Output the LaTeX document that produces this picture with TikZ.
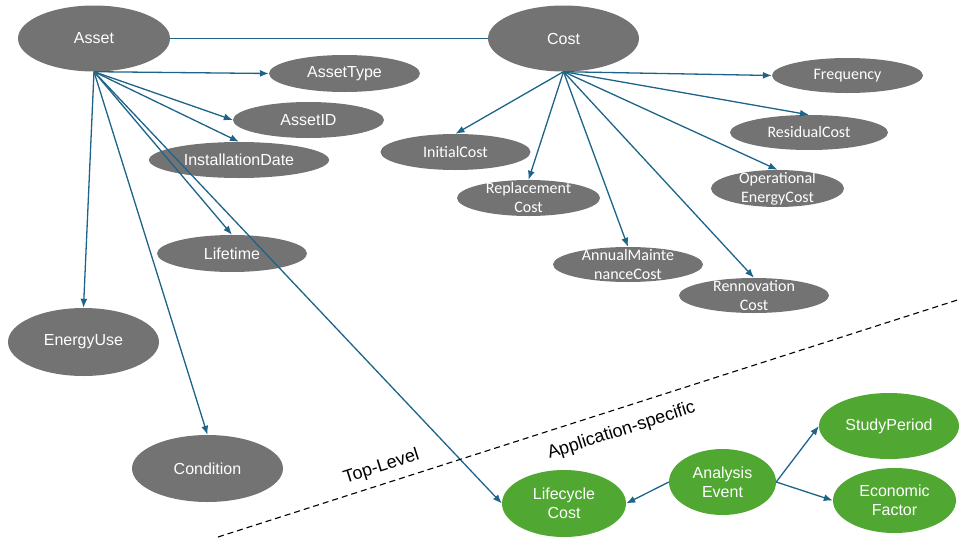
\documentclass[tikz,border=0pt]{standalone}
\usepackage{fontspec}
\setmainfont{Liberation Sans}
\newfontfamily\calfont{Carlito}
\usetikzlibrary{shapes.geometric,arrows.meta}
\definecolor{ellgray}{HTML}{737373}
\definecolor{ellgreen}{HTML}{50A732}
\definecolor{arrowblue}{HTML}{1D6488}
\tikzset{
  ell/.style={ellipse, draw=none, inner sep=0pt},
  grayell/.style={ell, fill=ellgray},
  greenell/.style={ell, fill=ellgreen},
  lbl/.style={text=white, align=center, inner sep=0pt, font=\fontsize{16}{19}\selectfont},
  clbl/.style={lbl, font=\calfont\fontsize{16}{19}\selectfont},
  conn/.style={draw=arrowblue, line width=1.3pt, -{Latex[length=9pt,width=7pt]}},
  plain/.style={draw=arrowblue, line width=1.3pt},
  divider/.style={draw=black, line width=1.1pt, dash pattern=on 6pt off 4pt},
  region/.style={font=\fontsize{18}{21}\selectfont, inner sep=0pt, rotate=17.7}
}
\newcommand{\ellnode}[7]{%
  \node[#1, minimum width=#4pt, minimum height=#5pt] (#2) at (#3) {};
  \node[#6] (#2-t) at (#2.center) {#7};
}
\begin{document}
\begin{tikzpicture}[x=1pt, y=-1pt]
\useasboundingbox (0,0) rectangle (959,541);
% main nodes
\ellnode{grayell}{asset}{94,38.5}{152}{66}{lbl}{Asset}
\ellnode{grayell}{cost}{563.5,38.5}{151}{66}{lbl}{Cost}
% asset attributes
\ellnode{grayell}{atype}{344.5,73.5}{151}{37}{lbl}{AssetType}
\ellnode{grayell}{aid}{308.5,120}{151}{36}{lbl}{AssetID}
\ellnode{grayell}{inst}{239,160}{180}{36}{lbl}{InstallationDate}
\ellnode{grayell}{life}{232,253.5}{150}{37}{lbl}{Lifetime}
\ellnode{grayell}{energy}{83.5,342}{151}{68}{lbl}{EnergyUse}
\ellnode{grayell}{cond}{207.5,468.5}{151}{67}{lbl}{Condition}
% cost attributes
\ellnode{grayell}{init}{455.5,152}{150}{36}{clbl}{InitialCost}
\ellnode{grayell}{repl}{528.5,198}{143}{36}{clbl}{Replacement\\Cost}
\ellnode{grayell}{annual}{628,264.5}{150}{35}{clbl}{AnnualMainte\\nanceCost}
\ellnode{grayell}{renov}{754,295.5}{150}{35}{clbl}{Rennovation\\Cost}
\ellnode{grayell}{oper}{777.5,188.5}{133}{37}{clbl}{Operational\\EnergyCost}
\ellnode{grayell}{resid}{809,132.5}{158}{35}{clbl}{ResidualCost}
\ellnode{grayell}{freq}{847.5,75.5}{151}{35}{clbl}{Frequency}
% application-specific
\ellnode{greenell}{lcc}{564,503.5}{124}{67}{lbl}{Lifecycle\\Cost}
\ellnode{greenell}{event}{722.5,482}{107}{66}{lbl}{Analysis\\Event}
\ellnode{greenell}{study}{889,426}{140}{66}{lbl}{StudyPeriod}
\ellnode{greenell}{econ}{894.5,500.5}{123}{65}{lbl}{Economic\\Factor}
% connectors
\draw[plain] (asset.east) -- (cost.west);
\coordinate (as) at (asset.south);
\coordinate (cs) at (cost.south);
\draw[conn] (as) -- (atype.west);
\draw[conn] (as) -- (aid.west);
\draw[conn] (as) -- (inst.north);
\draw[conn] (as) -- (life.north);
\draw[conn] (as) -- (energy.north);
\draw[conn] (as) -- (cond.north);
\draw[conn] (as) -- (lcc.west);
\draw[conn] (cs) -- (init.north);
\draw[conn] (cs) -- (repl.north);
\draw[conn] (cs) -- (annual.north);
\draw[conn] (cs) -- (renov.north);
\draw[conn] (cs) -- (oper.north);
\draw[conn] (cs) -- (resid.north);
\draw[conn] (cs) -- (freq.west);
\draw[conn] (event.west) -- (lcc.east);
\draw[conn] (event.east) -- (study.west);
\draw[conn] (event.east) -- (econ.west);
% divider
\coordinate (d1) at (218,537);
\coordinate (d2) at (959,299.5);
\draw[divider] (d1) -- (d2);
\node[region] (top) at (381.5,467) {Top-Level};
\node[region] (app) at (621.5,431) {Application-specific};
\end{tikzpicture}
\end{document}
